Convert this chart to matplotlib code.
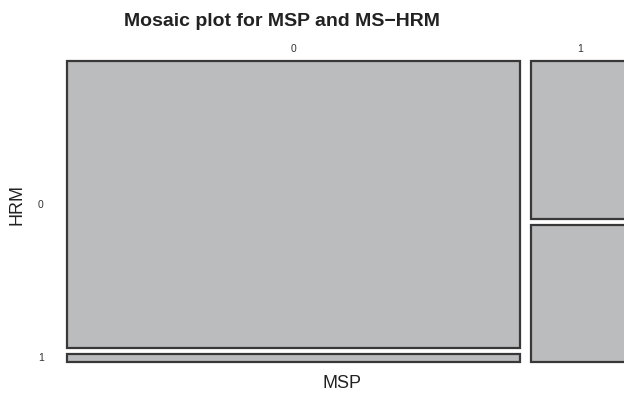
import matplotlib
matplotlib.use("Agg")
import matplotlib.pyplot as plt
from matplotlib.patches import Rectangle

# Data (proportions)
msp_levels = ["0", "1"]
hrm_levels = ["0", "1"]
msp_share = [0.822, 0.178]          # column widths (MSP)
hrm1_share_by_msp = [0.027, 0.463]  # share of HRM=1 within each MSP column

W, H = 624, 396
fig = plt.figure(figsize=(W / 100, H / 100), dpi=100)
plt.rcParams['font.family'] = ['Liberation Sans', 'DejaVu Sans']

# plot region in pixels (right column runs past the figure edge)
x0, x1 = 67, 629
y0, y1 = 61, 362
ax = fig.add_axes([x0 / W, 1 - y1 / H, (x1 - x0) / W, (y1 - y0) / H])
ax.set_xlim(0, 1)
ax.set_ylim(0, 1)
ax.axis("off")

gx = 11 / (x1 - x0)
gy = 6 / (y1 - y0)
fill = "#bbbcbe"
edge = "#383838"

xs = 0.0
for i, share in enumerate(msp_share):
    w = share * (1 - gx)
    h1 = hrm1_share_by_msp[i] * (1 - gy)
    h0 = (1 - hrm1_share_by_msp[i]) * (1 - gy)
    # HRM=1 bottom, HRM=0 top
    ax.add_patch(Rectangle((xs, 0), w, h1, facecolor=fill, edgecolor=edge, lw=1.6, clip_on=False))
    ax.add_patch(Rectangle((xs, h1 + gy), w, h0, facecolor=fill, edgecolor=edge, lw=1.6, clip_on=False))
    ax.text(xs + w / 2, 1 + 12 / (y1 - y0), msp_levels[i], ha="center", va="center",
            fontsize=7.5, color="#333333", clip_on=False)
    if i == 0:
        ax.text(-26 / (x1 - x0), h1 / 2, hrm_levels[1], ha="center", va="center",
                fontsize=7.5, color="#333333", clip_on=False)
        ax.text(-26 / (x1 - x0), h1 + gy + h0 / 2, hrm_levels[0], ha="center", va="center",
                fontsize=7.5, color="#333333", clip_on=False)
    xs += w + gx

fig.text(282 / W, 1 - 21 / H, "Mosaic plot for MSP and MS\u2212HRM", ha="center", va="center",
         fontsize=14, fontweight="bold", color="#222222")
fig.text(342 / W, 1 - 383 / H, "MSP", ha="center", va="center", fontsize=13, color="#222222")
fig.text(17 / W, 1 - 205 / H, "HRM", ha="center", va="center", fontsize=13, rotation=90,
         color="#222222")

fig.savefig("out.png", dpi=100)
